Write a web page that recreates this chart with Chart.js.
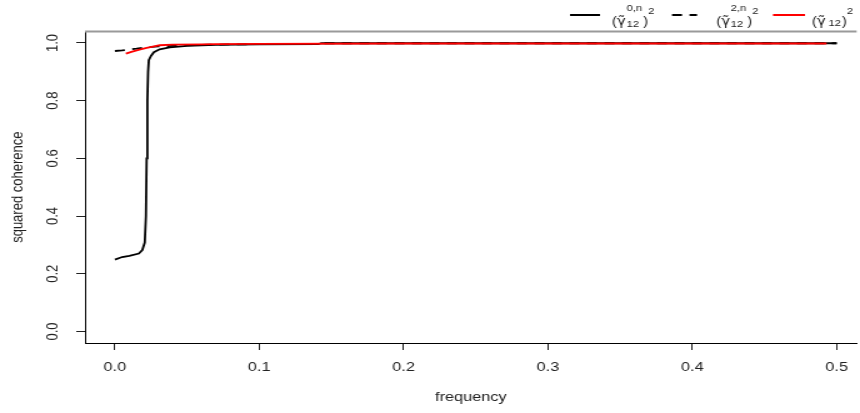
<!DOCTYPE html>
<html>
<head>
<meta charset="utf-8">
<script src="https://cdn.jsdelivr.net/npm/chart.js@4.4.1/dist/chart.umd.min.js"></script>
<style>
html, body { margin: 0; padding: 0; background: #fff; overflow: hidden; }
/* the original plot is stretched sideways, so draw narrow and widen it */
#wrap { width: 688px; height: 413px; transform: scaleX(1.25); transform-origin: 0 0; }
</style>
</head>
<body>
<div id="wrap"><canvas id="chart" width="688" height="413"></canvas></div>
<script>
// Datos
const freqSolid = [0, 0.005, 0.010, 0.0166, 0.019, 0.0207, 0.0215, 0.022, 0.0225, 0.023, 0.0235, 0.025, 0.027, 0.031, 0.038, 0.05, 0.07, 0.1, 0.141, 0.143, 0.2, 0.3, 0.4, 0.5];
const cohSolid  = [0.249, 0.258, 0.262, 0.270, 0.282, 0.308, 0.40, 0.60, 0.80, 0.90, 0.94, 0.955, 0.968, 0.978, 0.985, 0.990, 0.993, 0.995, 0.996, 0.999, 0.999, 0.999, 0.999, 0.999];

const freqDashed = [0, 0.005, 0.010, 0.015, 0.022, 0.030, 0.045, 0.065, 0.1, 0.14, 0.145, 0.2, 0.3, 0.4, 0.5];
const cohDashed  = [0.972, 0.974, 0.977, 0.980, 0.985, 0.988, 0.991, 0.994, 0.996, 0.997, 0.999, 0.999, 0.999, 0.999, 0.999];

const freqRed = [0.0076, 0.012, 0.017, 0.022, 0.028, 0.031, 0.04, 0.06, 0.07, 0.1, 0.2, 0.3, 0.4, 0.493];
const cohRed  = [0.963, 0.970, 0.977, 0.983, 0.989, 0.992, 0.994, 0.995, 0.996, 0.997, 0.998, 0.998, 0.998, 0.998];

const xTickValues = [0, 0.1, 0.2, 0.3, 0.4, 0.5];
const yTickValues = [0, 0.2, 0.4, 0.6, 0.8, 1.0];

const legendItems = [
    { sup: '0,n', sub: '12', color: '#000', dash: [] },
    { sup: '2,n', sub: '12', color: '#000', dash: [8, 6] },
    { sup: '',    sub: '12', color: '#ff0000', dash: [] }
];

const textColor = '#222';
const mainFont = '13px "Liberation Sans", Arial, sans-serif';
const legendFont = '12px "Liberation Sans", Arial, sans-serif';
const smallFont = '9px "Liberation Sans", Arial, sans-serif';

function toPoints(xs, ys) {
    return xs.map((x, i) => ({ x: x, y: ys[i] }));
}

// (γ̃ sup/sub)² label
function drawGamma(ctx, x, y, sup, sub) {
    ctx.fillStyle = textColor;
    ctx.textAlign = 'left';
    ctx.textBaseline = 'alphabetic';
    ctx.font = legendFont;
    ctx.fillText('(', x, y);
    x += ctx.measureText('(').width;
    ctx.font = '12px "DejaVu Sans", sans-serif';
    ctx.fillText('\u03B3\u0303', x, y);
    x += ctx.measureText('\u03B3').width;
    ctx.font = smallFont;
    let w = ctx.measureText(sub).width;
    if (sup) {
        ctx.fillText(sub, x + 0.5, y + 2.5);
        ctx.fillText(sup, x + 0.5, y - 14);
        w = Math.max(w, ctx.measureText(sup).width);
    } else {
        ctx.fillText(sub, x + 2, y + 1.5);
        w += 1.5;
    }
    x += w + 1.2;
    ctx.font = legendFont;
    ctx.fillText(')', x, y);
    x += ctx.measureText(')').width;
    ctx.font = smallFont;
    ctx.fillText('2', x, y - 10.5);
}

const extrasPlugin = {
    id: 'extras',
    afterDraw(chart) {
        const ctx = chart.ctx;
        const area = chart.chartArea;
        const yScale = chart.scales.y;

        // borde superior gris
        ctx.save();
        ctx.strokeStyle = '#9a9a9a';
        ctx.lineWidth = 2;
        ctx.beginPath();
        ctx.moveTo(area.left, area.top);
        ctx.lineTo(area.right, area.top);
        ctx.stroke();

        // etiquetas del eje y, giradas como en R
        ctx.fillStyle = textColor;
        ctx.font = mainFont;
        ctx.textAlign = 'center';
        ctx.textBaseline = 'middle';
        yTickValues.forEach(v => {
            const py = yScale.getPixelForValue(v);
            ctx.save();
            ctx.translate(42.5, py);
            ctx.rotate(-Math.PI / 2);
            ctx.fillText(v.toFixed(1), 0, 0);
            ctx.restore();
        });
        ctx.save();
        ctx.translate(14.5, yScale.getPixelForValue(0.5));
        ctx.rotate(-Math.PI / 2);
        ctx.fillText('squared coherence', 0, 0);
        ctx.restore();

        // leyenda
        const lineX = [456, 537.6, 618.4];
        const lineLen = [24, 20, 25.6];
        const textX = [489.6, 573, 649.6];
        legendItems.forEach((item, i) => {
            ctx.strokeStyle = item.color;
            ctx.lineWidth = 2;
            ctx.setLineDash(item.dash);
            ctx.beginPath();
            ctx.moveTo(lineX[i], 15);
            ctx.lineTo(lineX[i] + lineLen[i], 15);
            ctx.stroke();
            ctx.setLineDash([]);
            drawGamma(ctx, textX[i], 24.5, item.sup, item.sub);
        });
        ctx.restore();
    }
};

const ctx = document.getElementById('chart').getContext('2d');
new Chart(ctx, {
    type: 'line',
    data: {
        datasets: [
            {
                label: 'solid',
                data: toPoints(freqSolid, cohSolid),
                borderColor: '#000',
                borderWidth: 1.8,
                pointRadius: 0,
                order: 3
            },
            {
                label: 'dashed',
                data: toPoints(freqDashed, cohDashed),
                borderColor: '#000',
                borderWidth: 1.8,
                borderDash: [8, 6],
                pointRadius: 0,
                order: 2
            },
            {
                label: 'red',
                data: toPoints(freqRed, cohRed),
                borderColor: '#ff0000',
                borderWidth: 1.8,
                pointRadius: 0,
                order: 1
            }
        ]
    },
    options: {
        responsive: false,
        animation: false,
        devicePixelRatio: 1,
        layout: { padding: { top: 31.4, right: 0, bottom: 7.6, left: 0 } },
        plugins: {
            legend: { display: false },
            tooltip: { enabled: false }
        },
        scales: {
            x: {
                type: 'linear',
                min: -0.0207,
                max: 0.5138,
                afterBuildTicks: scale => { scale.ticks = xTickValues.map(v => ({ value: v })); },
                grid: { display: true, drawOnChartArea: false, drawTicks: true, tickLength: 7, color: textColor },
                border: { display: true, color: '#000', width: 1 },
                ticks: {
                    color: textColor,
                    font: { family: '"Liberation Sans", Arial, sans-serif', size: 13 },
                    padding: 9.6,
                    maxRotation: 0,
                    callback: v => v.toFixed(1)
                },
                title: {
                    display: true,
                    text: 'frequency',
                    color: textColor,
                    font: { family: '"Liberation Sans", Arial, sans-serif', size: 13 },
                    padding: { top: 5, bottom: 0 }
                }
            },
            y: {
                type: 'linear',
                min: -0.04,
                max: 1.04,
                afterBuildTicks: scale => { scale.ticks = yTickValues.map(v => ({ value: v })); },
                afterFit: scale => { scale.width = 68; },
                grid: { display: true, drawOnChartArea: false, drawTicks: true, tickLength: 7, color: textColor },
                border: { display: true, color: '#000', width: 1 },
                ticks: { display: false }
            }
        }
    },
    plugins: [extrasPlugin]
});
</script>
</body>
</html>
